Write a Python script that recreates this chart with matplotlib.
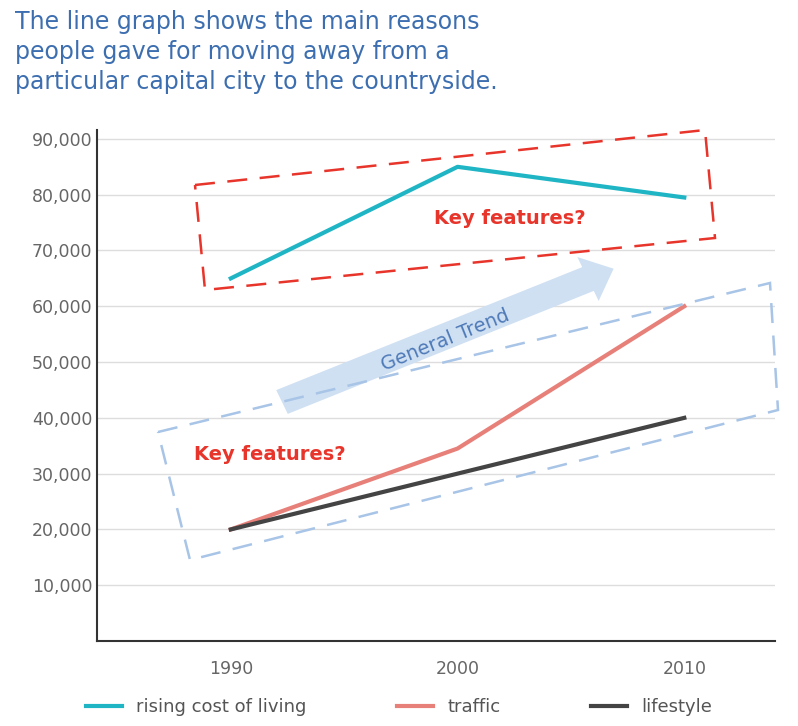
import matplotlib.pyplot as plt
from matplotlib.patches import Polygon, FancyArrow

years = [1990, 2000, 2010]
cost = [65000, 85000, 79500]
traffic = [20000, 34500, 60000]
lifestyle = [20000, 30000, 40000]
yticks = [10000, 20000, 30000, 40000, 50000, 60000, 70000, 80000, 90000]

W, H = 798, 726
fig = plt.figure(figsize=(W/100, H/100), dpi=100)
ax = fig.add_axes([97/W, 1-641/H, (775-97)/W, (641-130)/H])
ax.set_xlim(1984.1, 2014.0)
ax.set_ylim(0, 91600)
ax.set_yticks(yticks)
ax.set_yticklabels([f"{v:,}" for v in yticks], color='#666666', fontsize=12.5)
ax.set_xticks(years)
ax.set_xticklabels([str(y) for y in years], color='#666666', fontsize=12.5)
ax.grid(axis='y', color='#dddddd', lw=1)
ax.set_axisbelow(True)
for s in ['top', 'right']:
    ax.spines[s].set_visible(False)
ax.spines['left'].set_color('#333333'); ax.spines['bottom'].set_color('#333333')
ax.spines['left'].set_linewidth(1.5); ax.spines['bottom'].set_linewidth(1.5)
ax.tick_params(axis='x', length=0, pad=14)
ax.tick_params(axis='y', length=0)

l1, = ax.plot(years, cost, color='#1fb5c5', lw=3, label='rising cost of living')
l2, = ax.plot(years, traffic, color='#e8807a', lw=3, label='traffic')
l3, = ax.plot(years, lifestyle, color='#444444', lw=3, label='lifestyle')

def fp(pts):
    return [(x/W, 1-y/H) for x, y in pts]

fig.patches.append(FancyArrow(282/W, 1-402/H, 306/W, 123/H, width=26/H, head_width=48/H,
                              head_length=28/W, transform=fig.transFigure, color='#cfe0f3', lw=0))
fig.patches.append(Polygon(fp([(195,185),(705,130),(715,238),(205,290)]), closed=True, fill=False,
                           ec='#e8352b', lw=1.8, ls=(0,(8,5)), transform=fig.transFigure))
fig.patches.append(Polygon(fp([(158,432),(770,283),(778,410),(190,560)]), closed=True, fill=False,
                           ec='#a8c4e6', lw=1.8, ls=(0,(8,5)), transform=fig.transFigure))
fig.text(445/W, 1-340/H, 'General Trend', rotation=22, color='#4f7ab8', fontsize=14,
         ha='center', va='center')
fig.text(510/W, 1-218/H, 'Key features?', color='#e8352b', fontsize=14, fontweight='bold', ha='center', va='center')
fig.text(270/W, 1-455/H, 'Key features?', color='#e8352b', fontsize=14, fontweight='bold', ha='center', va='center')

fig.text(15/W, 1-52/H, 'The line graph shows the main reasons\npeople gave for moving away from a\nparticular capital city to the countryside.',
         color='#3d6fb0', fontsize=17, ha='left', va='center', linespacing=1.3)

fig.legend(handles=[l1, l2, l3], loc='center', bbox_to_anchor=(0.5, 1-707/H), ncol=3, frameon=False,
           fontsize=13, labelcolor='#555555', handlelength=2.0, columnspacing=5)
fig.savefig('out.png', dpi=100)
